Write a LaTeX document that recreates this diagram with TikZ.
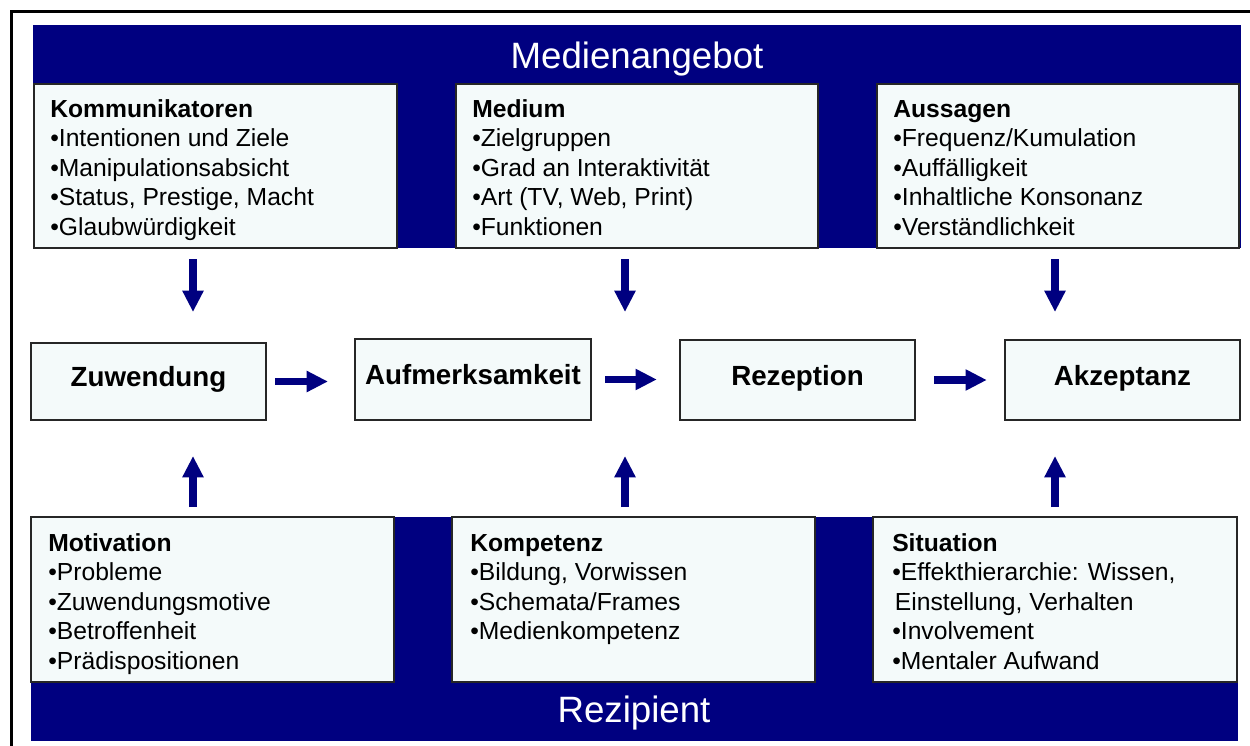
\documentclass[tikz,border=0pt]{standalone}
\usepackage{fontspec}
\setmainfont{Liberation Sans}
\usetikzlibrary{arrows.meta,calc}
\definecolor{navyband}{RGB}{0,0,128}
\definecolor{boxfill}{RGB}{244,250,250}
\begin{document}
\begin{tikzpicture}[x=0.75pt,y=-0.75pt,
  band/.style={fill=navyband, draw=none},
  infobox/.style={draw=black!85, line width=1.5pt, fill=boxfill, anchor=north west, inner sep=0pt, outer sep=0pt},
  stagebox/.style={draw=black!85, line width=1.5pt, fill=boxfill, inner sep=0pt, outer sep=0pt,
     minimum height=57.75pt, minimum width=176.5pt,
     font=\fontsize{20.8}{24}\selectfont\bfseries, text height=13pt, text depth=5pt},
  bodytext/.style={anchor=base west, inner sep=0pt, align=left, font=\fontsize{18.5}{22.2}\selectfont},
  bandtitle/.style={anchor=base, inner sep=0pt, text=white, font=\fontsize{27.5}{32}\selectfont},
  flow/.style={draw=navyband, line width=5.5pt, -{Triangle[width=15pt,length=16pt]}},
]
\useasboundingbox (0,0) rectangle (1250,746);
% outer frame
\draw[line width=2.25pt] (1250,11) -- (11,11) -- (11,746);
% bands
\fill[band] (33,25) rectangle (1241,248);
\fill[band] (31,517) rectangle (1238,741);
\node[bandtitle] (tMedien) at (637,68) {Medienangebot};
\node[bandtitle] (tRezip) at (634,722) {Rezipient};
% top boxes
\node[infobox, minimum width=272.25pt, minimum height=123pt] (komm) at (34,84) {};
\node[infobox, minimum width=271.5pt, minimum height=123pt] (med) at (456,84) {};
\node[infobox, minimum width=271.5pt, minimum height=123pt] (auss) at (877,84) {};
% (base anchor = baseline of the last line)
\node[bodytext] (kommT) at (50,235.4) {\textbf{Kommunikatoren}\\•Intentionen und Ziele\\•Manipulationsabsicht\\•Status, Prestige, Macht\\•Glaubwürdigkeit};
\node[bodytext] (medT) at (472,235.4) {\textbf{Medium}\\•Zielgruppen\\•Grad an Interaktivität\\•Art (TV, Web, Print)\\•Funktionen};
\node[bodytext] (aussT) at (893,235.4) {\textbf{Aussagen}\\•Frequenz/Kumulation\\•Auffälligkeit\\•Inhaltliche Konsonanz\\•Verständlichkeit};
% bottom boxes
\node[infobox, minimum width=272.25pt, minimum height=123.75pt] (motiv) at (31,517) {};
\node[infobox, minimum width=272.25pt, minimum height=123.75pt] (komp) at (452,517) {};
\node[infobox, minimum width=273pt, minimum height=123.75pt] (sit) at (873,517) {};
\node[bodytext] (motivT) at (48,669.4) {\textbf{Motivation}\\•Probleme\\•Zuwendungsmotive\\•Betroffenheit\\•Prädispositionen};
\node[bodytext] (kompT) at (470,639.8) {\textbf{Kompetenz}\\•Bildung, Vorwissen\\•Schemata/Frames\\•Medienkompetenz};
\node[bodytext] (sitT) at (892,669.4) {\textbf{Situation}\\•Effekthierarchie: Wissen,\\\hspace{2pt}Einstellung, Verhalten\\•Involvement\\•Mentaler Aufwand};
% middle stages
\node[stagebox] (zuw) at (148.5,381.5) {Zuwendung};
\node[stagebox, minimum height=60.75pt, minimum width=177pt] (auf) at (473,379.5) {Aufmerksamkeit};
\node[stagebox, minimum height=60pt] (rez) at (797.5,380) {Rezeption};
\node[stagebox, minimum height=60pt] (akz) at (1122.5,380) {Akzeptanz};
% arrow columns
\coordinate (c1) at (193,0);
\coordinate (c2) at (625,0);
\coordinate (c3) at (1055,0);
\draw[flow, shorten <=8.25pt, shorten >=23.25pt] (komm.south -| c1) -- (zuw.north -| c1);
\draw[flow, shorten <=8.25pt, shorten >=20.25pt] (med.south -| c2) -- (auf.north -| c2);
\draw[flow, shorten <=8.25pt, shorten >=21pt] (auss.south -| c3) -- (akz.north -| c3);
\draw[flow, shorten <=7.5pt, shorten >=27pt] (motiv.north -| c1) -- (zuw.south -| c1);
\draw[flow, shorten <=7.5pt, shorten >=27pt] (komp.north -| c2) -- (auf.south -| c2);
\draw[flow, shorten <=7.5pt, shorten >=27pt] (sit.north -| c3) -- (akz.south -| c3);
\draw[flow, shorten <=6.75pt, shorten >=20.25pt] (zuw.east) -- (zuw.east -| auf.west);
\draw[flow, shorten <=10.5pt, shorten >=17.25pt] (auf.east) -- (auf.east -| rez.west);
\draw[flow, shorten <=14.25pt, shorten >=13.5pt] (rez.east) -- (rez.east -| akz.west);
\end{tikzpicture}
\end{document}
